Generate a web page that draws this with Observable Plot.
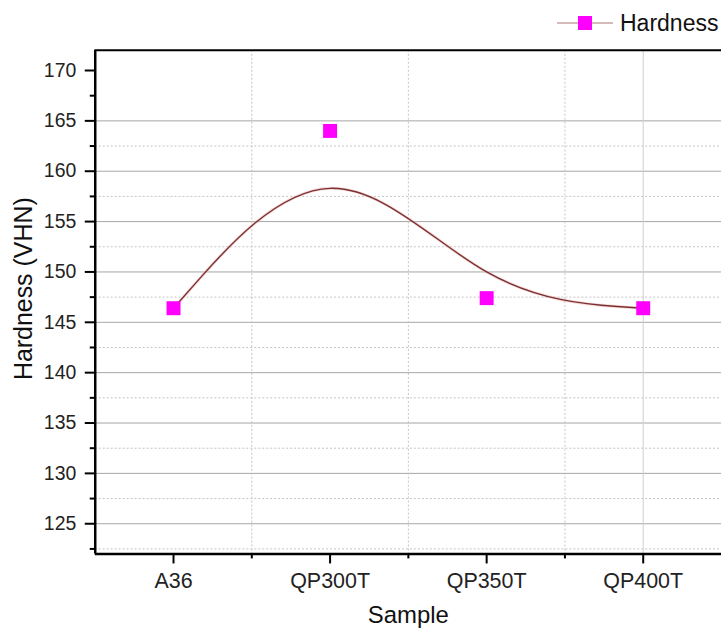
<!DOCTYPE html>
<html><head><meta charset="utf-8">
<script src="https://cdn.jsdelivr.net/npm/d3@7"></script>
<script src="https://cdn.jsdelivr.net/npm/@observablehq/plot@0.6"></script>
<style>
html,body{margin:0;padding:0;background:#fff;overflow:hidden;width:721px;height:632px;}
#wrap{position:relative;width:721px;height:632px;overflow:hidden;}
#legend{position:absolute;left:557px;top:6px;height:34px;display:flex;align-items:center;font-family:"Liberation Sans",Arial,sans-serif;font-size:23px;color:#111;white-space:nowrap;}
#legend svg{margin-right:7px;}
#chart{position:absolute;left:0;top:0;}
</style></head><body>
<div id="wrap">
<div id="chart"></div>
<div id="legend"><svg width="56" height="20"><line x1="0" y1="10" x2="56" y2="10" stroke="#c7a3a3" stroke-width="1.5"/><rect x="21" y="3" width="14" height="14" fill="#ff00ff"/></svg><span>Hardness</span></div>
</div>
<script>
const categories = ["A36", "QP300T", "QP350T", "QP400T"];
const hardness = [146.4, 164.0, 147.4, 146.4];
const seriesName = "Hardness";
const xLabel = "Sample";
const yLabel = "Hardness (VHN)";
const yMajorTicks = [125, 130, 135, 140, 145, 150, 155, 160, 165, 170];
const yMinorTicks = [122.5, 127.5, 132.5, 137.5, 142.5, 147.5, 152.5, 157.5, 162.5, 167.5];
const yMajorGrid = [125, 130, 135, 140, 145, 150, 155, 160, 165];
const yMinorGrid = [122.5, 127.5, 132.5, 137.5, 142.5, 147.5, 152.5, 157.5, 162.5];
const xPositions = [1, 2, 3, 4];
const xMinorTicks = [1.5, 2.5, 3.5];
const yDomain = [122, 172];
const xDomain = [0.5, 4.5];

const data = categories.map((c, i) => ({cat: c, i: xPositions[i], v: hardness[i]}));

const chart = Plot.plot({
  width: 723,
  height: 632,
  marginTop: 50,
  marginBottom: 77,
  marginLeft: 95,
  marginRight: 0,
  style: {fontFamily: "'Liberation Sans', Arial, sans-serif", fontSize: "19px", color: "#222", background: "#fff"},
  x: {type: "linear", domain: xDomain},
  y: {domain: yDomain},
  marks: [
    Plot.ruleY(yMinorGrid, {stroke: "#c4c4c4", strokeDasharray: "2,2", strokeWidth: 1}),
    Plot.ruleY(yMajorGrid, {stroke: "#a6a6a6", strokeWidth: 1}),
    Plot.ruleX(xMinorTicks, {stroke: "#c4c4c4", strokeDasharray: "2,2", strokeWidth: 1}),
    Plot.ruleX([xPositions[xPositions.length - 1]], {stroke: "#cfcfcf", strokeWidth: 1}),
    Plot.line(data, {x: "i", y: "v", curve: "basis", stroke: "#e8b8b8", strokeWidth: 3, strokeOpacity: 0.5}),
    Plot.line(data, {x: "i", y: "v", curve: "basis", stroke: "#7d2f2f", strokeWidth: 1.4}),
    Plot.dot(data, {x: "i", y: "v", symbol: "square", r: 7.9, fill: "#ff00ff", stroke: "none"}),
    Plot.axisY(yMajorTicks, {tickSize: 10, tickPadding: 9, strokeWidth: 2, stroke: "#000", tickFormat: d => String(d), label: null, fill: "#222", fontSize: 19.5}),
    Plot.axisY(yMinorTicks, {tickSize: 5, strokeWidth: 2, stroke: "#000", tickFormat: () => "", label: null}),
    Plot.axisX(xPositions, {tickSize: 10, tickPadding: 9, strokeWidth: 2, stroke: "#000", tickFormat: d => categories[d - 1], label: null, fill: "#222", fontSize: 21.5}),
    Plot.axisX(xMinorTicks, {tickSize: 5, strokeWidth: 2, stroke: "#000", tickFormat: () => "", label: null}),
    Plot.ruleX([xDomain[0]], {stroke: "#000", strokeWidth: 2.5}),
    Plot.ruleY([yDomain[0]], {stroke: "#000", strokeWidth: 2.5}),
    Plot.ruleY([yDomain[1]], {stroke: "#000", strokeWidth: 2}),
    Plot.text([yLabel], {text: d => d, frameAnchor: "left", textAnchor: "middle", lineAnchor: "middle", dx: -71, dy: -13.5, rotate: -90, fontSize: 25, fill: "#111"}),
    Plot.text([xLabel], {text: d => d, frameAnchor: "bottom", textAnchor: "middle", lineAnchor: "middle", dy: 62, fontSize: 24, fill: "#111"})
  ]
});
document.getElementById("chart").appendChild(chart);
</script>
</body></html>
